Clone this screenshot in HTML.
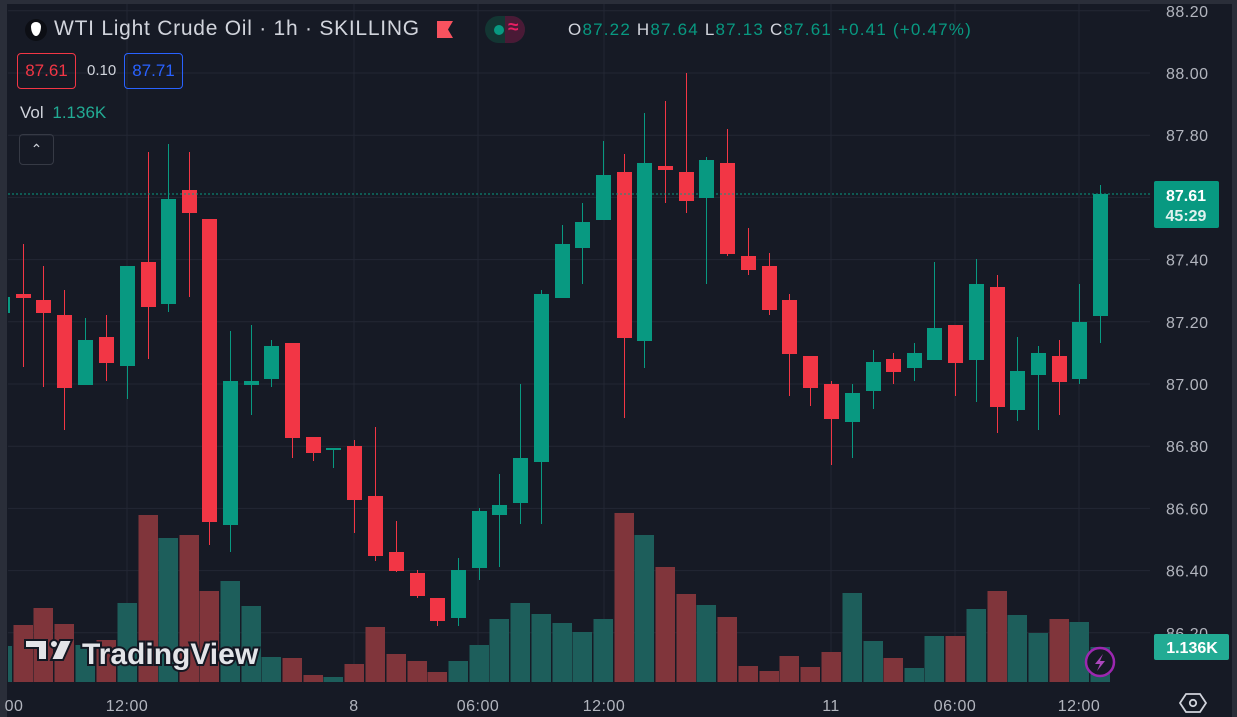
<!DOCTYPE html>
<html><head><meta charset="utf-8"><style>
html,body{margin:0;padding:0;background:#161a25;width:1237px;height:717px;overflow:hidden;font-family:"Liberation Sans",sans-serif}
.t{position:absolute;white-space:nowrap}
</style></head><body>
<svg id="s" width="1237" height="717" style="position:absolute;left:0;top:0">
<rect width="1237" height="717" fill="#161a25"/>
<rect x="0" y="0" width="7" height="717" fill="#2a2e39"/>
<rect x="1232" y="0" width="5" height="717" fill="#2a2e39"/>
<rect x="0" y="0" width="1237" height="4" fill="#2a2e39"/>
<g id="grid"></g>
<defs><clipPath id="pc"><rect x="8" y="4" width="1142" height="678"/></clipPath></defs>
<g id="vol" clip-path="url(#pc)"></g>
<g id="cnd" clip-path="url(#pc)"></g>
<line x1="8" y1="194" x2="1150" y2="194" stroke="#089981" stroke-width="1" stroke-dasharray="2,2"/>
<g id="lbl" font-family="Liberation Sans, sans-serif" font-size="16" fill="#b2b5be" letter-spacing="0.5"></g>
<rect x="1154" y="181" width="65" height="47" rx="2" fill="#089981"/>
<text x="1186" y="201" text-anchor="middle" font-size="16" font-weight="bold" fill="#fff" font-family="Liberation Sans, sans-serif">87.61</text>
<text x="1186" y="221" text-anchor="middle" font-size="16" font-weight="bold" fill="#e0f2ef" font-family="Liberation Sans, sans-serif">45:29</text>
<rect x="1154" y="634" width="75" height="26" rx="2" fill="#22ab94"/>
<text x="1192" y="653" text-anchor="middle" font-size="16" font-weight="bold" fill="#fff" font-family="Liberation Sans, sans-serif">1.136K</text>
<circle cx="1100" cy="662" r="14" fill="#161a25" stroke="#9c27b0" stroke-width="2.5"/>
<path d="M1103 654 L1095 664 L1100 664 L1097 671 L1105 661 L1100 661 Z" fill="#ab47bc"/>
<polygon points="1186,694 1200,694 1206,703 1200,712 1186,712 1180,703" fill="none" stroke="#d1d4dc" stroke-width="1.8"/>
<circle cx="1193" cy="703" r="3.2" fill="none" stroke="#d1d4dc" stroke-width="1.8"/>
<polygon points="437,21 453,21 448,29.5 453,38 437,38" fill="#f7525f"/>
<g>
<text x="82" y="664" font-size="30" font-weight="bold" fill="#e3e4e8" stroke="#131722" stroke-width="4" paint-order="stroke" font-family="Liberation Sans, sans-serif">TradingView</text>
<path d="M25 640 H47 V660 H38 V648 H25 Z" fill="#e3e4e8" stroke="#131722" stroke-width="2"/>
<circle cx="54" cy="644" r="4" fill="#e3e4e8" stroke="#131722" stroke-width="2"/>
<path d="M60 640 H72 L63 660 H51 Z" fill="#e3e4e8" stroke="#131722" stroke-width="2"/>
</g>
</svg>

<div class="t" style="left:25px;top:19px;width:22px;height:22px;border-radius:11px;background:#0c0e14"></div>
<div class="t" style="left:31px;top:22px;width:10px;height:14px;background:#fff;border-radius:50% 50% 50% 50% / 30% 30% 70% 70%"></div>
<div class="t" style="left:54px;top:17px;font-size:21px;letter-spacing:0.75px;color:#d1d4dc">WTI Light Crude Oil · 1h · SKILLING</div>
<div class="t" style="left:485px;top:16px;width:40px;height:27px;border-radius:14px;background:#133633;overflow:hidden">
 <div style="position:absolute;left:20px;top:0;width:26px;height:27px;background:#4a1a36"></div>
 <div style="position:absolute;left:9px;top:9px;width:10px;height:10px;border-radius:5px;background:#089981"></div>
 <div style="position:absolute;left:23px;top:1px;font-size:19px;font-weight:bold;color:#e91e63">≈</div>
</div>
<div class="t" style="left:568px;top:20px;font-size:17px;letter-spacing:1.2px;color:#d1d4dc">O<span style="color:#089981">87.22</span> H<span style="color:#089981">87.64</span> L<span style="color:#089981">87.13</span> C<span style="color:#089981">87.61</span> <span style="color:#089981">+0.41 (+0.47%)</span></div>
<div class="t" style="left:17px;top:53px;width:57px;height:34px;border:1px solid #f23645;border-radius:4px;color:#f23645;font-size:17px;line-height:34px;text-align:center">87.61</div>
<div class="t" style="left:87px;top:62px;font-size:15px;color:#d1d4dc">0.10</div>
<div class="t" style="left:124px;top:53px;width:57px;height:34px;border:1px solid #2962ff;border-radius:4px;color:#2962ff;font-size:17px;line-height:34px;text-align:center">87.71</div>
<div class="t" style="left:20px;top:103px;font-size:17px;color:#d1d4dc">Vol <span style="color:#22ab94;margin-left:4px">1.136K</span></div>
<div class="t" style="left:19px;top:134px;width:33px;height:29px;border:1px solid #363a45;border-radius:4px;color:#d1d4dc;font-size:14px;text-align:center;line-height:29px">&#8963;</div>

<script>
var NS="http://www.w3.org/2000/svg";
function el(p,n,a,txt){var e=document.createElementNS(NS,n);for(var k in a)e.setAttribute(k,a[k]);if(txt)e.textContent=txt;p.appendChild(e);return e;}
var g=document.getElementById('grid'),lb=document.getElementById('lbl');
for(var i=0;i<=10;i++){var p=88.2-i*0.2;var y=384-(p-87)*311;
 el(g,'line',{x1:8,y1:y,x2:1150,y2:y,stroke:'#232734','stroke-width':1});
 if(Math.abs(p-87.6)>0.05) el(lb,'text',{x:1166,y:y+6},p.toFixed(2));}
var xs=[[14,'00'],[127,'12:00'],[354,'8'],[478,'06:00'],[604,'12:00'],[831,'11'],[955,'06:00'],[1079,'12:00']];
xs.forEach(function(a){ if(a[0]>20) el(g,'line',{x1:a[0],y1:4,x2:a[0],y2:682,stroke:'#232734','stroke-width':1});
 el(lb,'text',{x:a[0],y:711,'text-anchor':'middle'},a[1]);});
var C=[[2,297,313,290,313,1],[23,294,298,244,367,0],[43,300,313,266,387,0],[64,315,388,290,430,0],[85,340,385,318,385,1],[106,337,363,315,381,0],[127,266,366,266,399,1],[148,262,307,152,359,0],[168,199,304,144,312,1],[189,190,213,152,297,0],[209,219,522,219,545,0],[230,381,525,331,552,1],[251,381,385,325,415,1],[271,346,379,340,387,1],[292,343,438,343,458,0],[313,437,453,437,461,0],[333,448,450,448,468,1],[354,446,500,440,533,0],[375,496,556,427,561,0],[396,552,571,521,572,0],[417,573,596,570,598,0],[437,598,621,598,626,0],[458,570,618,558,626,1],[479,511,568,508,580,1],[499,505,515,474,567,1],[520,458,503,384,524,1],[541,294,462,290,524,1],[562,244,298,225,298,1],[582,222,248,203,284,1],[603,175,220,141,220,1],[624,172,338,154,418,0],[644,163,341,113,368,1],[665,166,170,101,203,0],[686,172,201,73,213,0],[706,160,198,157,284,1],[727,163,254,129,256,0],[748,256,270,228,275,0],[769,266,310,253,315,0],[789,300,354,294,396,0],[810,356,388,356,406,0],[831,384,419,381,465,0],[852,393,422,384,458,1],[873,362,391,350,409,1],[893,359,372,353,384,0],[914,353,368,343,381,1],[934,328,360,262,360,1],[955,325,363,325,396,0],[976,284,360,259,402,1],[997,287,407,275,433,0],[1017,371,410,337,421,1],[1038,353,375,346,430,1],[1059,356,382,340,415,0],[1079,322,379,284,384,1],[1100,194,316,185,343,1]];
var V=[646,625,608,624,645,640,603,515,538,535,591,581,606,657,658,675,677,664,627,654,661,672,661,645,619,603,614,623,632,619,513,535,567,594,605,617,666,671,656,667,652,593,641,658,668,636,636,609,591,615,633,619,622,647];
var cg=document.getElementById('cnd'),vg=document.getElementById('vol');
C.forEach(function(c,i){var col=c[5]?'#089981':'#f23645';
 var x=c[0]+0.5;
 el(vg,'rect',{x:x-10,y:V[i],width:19.5,height:682-V[i],fill:c[5]?'#1d5e5b':'#80353b'});
 el(cg,'line',{x1:x,y1:c[3],x2:x,y2:c[4],stroke:col,'stroke-width':1});
 var h=Math.max(c[2]-c[1],2);
 el(cg,'rect',{x:x-7.5,y:c[1],width:15,height:h,fill:col});
});
</script>
</body></html>
